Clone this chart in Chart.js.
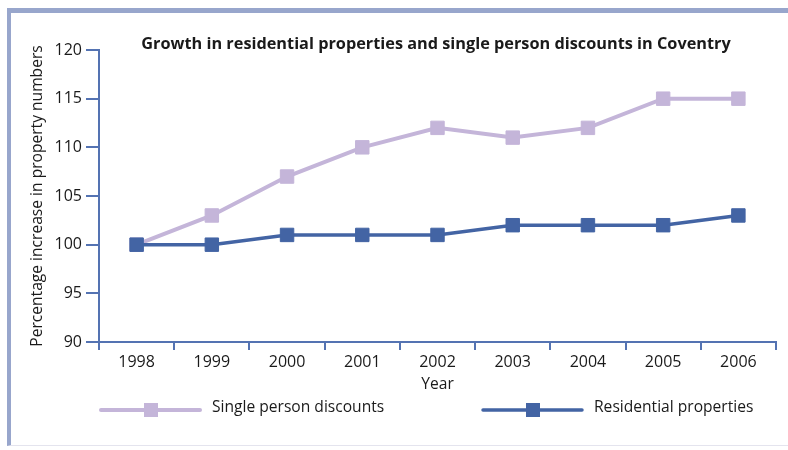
<!DOCTYPE html>
<html>
<head>
<meta charset="utf-8">
<script src="https://cdn.jsdelivr.net/npm/chart.js@4/dist/chart.umd.min.js"></script>
<style>
  html, body { margin: 0; padding: 0; background: #fff; }
  #wrap { position: relative; width: 788px; height: 450px; overflow: hidden; }
  #frame {
    position: absolute; left: 7px; top: 8px; width: 781px; height: 438px;
    border-top: 5px solid #98a6cc; border-left: 4px solid #98a6cc;
    border-bottom: 1px solid #e4e4ee; box-sizing: border-box;
  }
  #chart { position: absolute; left: 0; top: 0; }
</style>
</head>
<body>
<div id="wrap">
  <div id="frame"></div>
  <canvas id="chart" width="788" height="450"></canvas>
</div>
<script>
// data
const years = ['1998', '1999', '2000', '2001', '2002', '2003', '2004', '2005', '2006'];
const singlePerson = [100, 103, 107, 110, 112, 111, 112, 115, 115];
const residential = [100, 100, 101, 101, 101, 102, 102, 102, 103];

const titleText = 'Growth in residential properties and single person discounts in Coventry';
const yTitle = 'Percentage increase in property numbers';
const xTitle = 'Year';

const purple = '#c4b5d9';
const blue = '#4364a4';
const axisColor = '#5473b2';
const textColor = '#1a1a1a';
const fontFamily = '"Open Sans", "Noto Sans", sans-serif';

// title and legend sit outside the normal layout, so draw them ourselves
const overlayPlugin = {
    id: 'overlay',
    afterDraw(chart) {
        const ctx = chart.ctx;
        ctx.save();
        ctx.fillStyle = textColor;
        ctx.font = 'bold 16.3px ' + fontFamily;
        ctx.textAlign = 'center';
        ctx.textBaseline = 'middle';
        ctx.fillText(titleText, 436, 44);

        const items = [
            {label: 'Single person discounts', color: purple, x: 101, width: 4},
            {label: 'Residential properties', color: blue, x: 483, width: 3.5}
        ];
        const y = 410;
        items.forEach(item => {
            ctx.strokeStyle = item.color;
            ctx.lineWidth = item.width;
            ctx.lineCap = 'round';
            ctx.beginPath();
            ctx.moveTo(item.x, y);
            ctx.lineTo(item.x + 99, y);
            ctx.stroke();
            ctx.fillStyle = item.color;
            ctx.fillRect(item.x + 43, y - 7, 14, 14);
            ctx.fillStyle = textColor;
            ctx.font = '15.6px ' + fontFamily;
            ctx.textAlign = 'left';
            ctx.fillText(item.label, item.x + 111, y - 2);
        });
        ctx.restore();
    }
};

new Chart(document.getElementById('chart'), {
    type: 'line',
    data: {
        labels: years,
        datasets: [
            {
                label: 'Single person discounts',
                data: singlePerson,
                borderColor: purple,
                backgroundColor: purple,
                borderWidth: 4,
                pointStyle: 'rect',
                pointRadius: 9.5,
                pointBorderWidth: 1,
                order: 1
            },
            {
                label: 'Residential properties',
                data: residential,
                borderColor: blue,
                backgroundColor: blue,
                borderWidth: 3.5,
                pointStyle: 'rect',
                pointRadius: 9.5,
                pointBorderWidth: 1,
                order: 0
            }
        ]
    },
    options: {
        responsive: false,
        animation: false,
        layout: {
            padding: {left: 14, right: 12, top: 50, bottom: 53}
        },
        plugins: {
            legend: {display: false},
            tooltip: {enabled: false},
            title: {display: false}
        },
        scales: {
            x: {
                offset: true,
                grid: {
                    display: true,
                    drawOnChartArea: false,
                    drawTicks: true,
                    tickLength: 8,
                    offset: true,
                    color: axisColor,
                    lineWidth: 2
                },
                border: {color: axisColor, width: 2},
                ticks: {
                    color: textColor,
                    padding: 3,
                    font: {family: fontFamily, size: 16}
                },
                title: {
                    display: true,
                    text: xTitle,
                    color: textColor,
                    padding: {top: 0, bottom: 3},
                    font: {family: fontFamily, size: 15.6}
                },
                afterFit(scale) {
                    scale.height = 55;
                }
            },
            y: {
                min: 90,
                max: 120,
                grid: {
                    display: true,
                    drawOnChartArea: false,
                    drawTicks: true,
                    tickLength: 13,
                    color: axisColor,
                    lineWidth: 2
                },
                border: {color: axisColor, width: 2},
                ticks: {
                    stepSize: 5,
                    color: textColor,
                    padding: 4,
                    font: {family: fontFamily, size: 16}
                },
                title: {
                    display: true,
                    text: yTitle,
                    color: textColor,
                    padding: {top: 14, bottom: 0},
                    font: {family: fontFamily, size: 15.6}
                },
                afterFit(scale) {
                    scale.width = 85;
                }
            }
        }
    },
    plugins: [overlayPlugin]
});
</script>
</body>
</html>
